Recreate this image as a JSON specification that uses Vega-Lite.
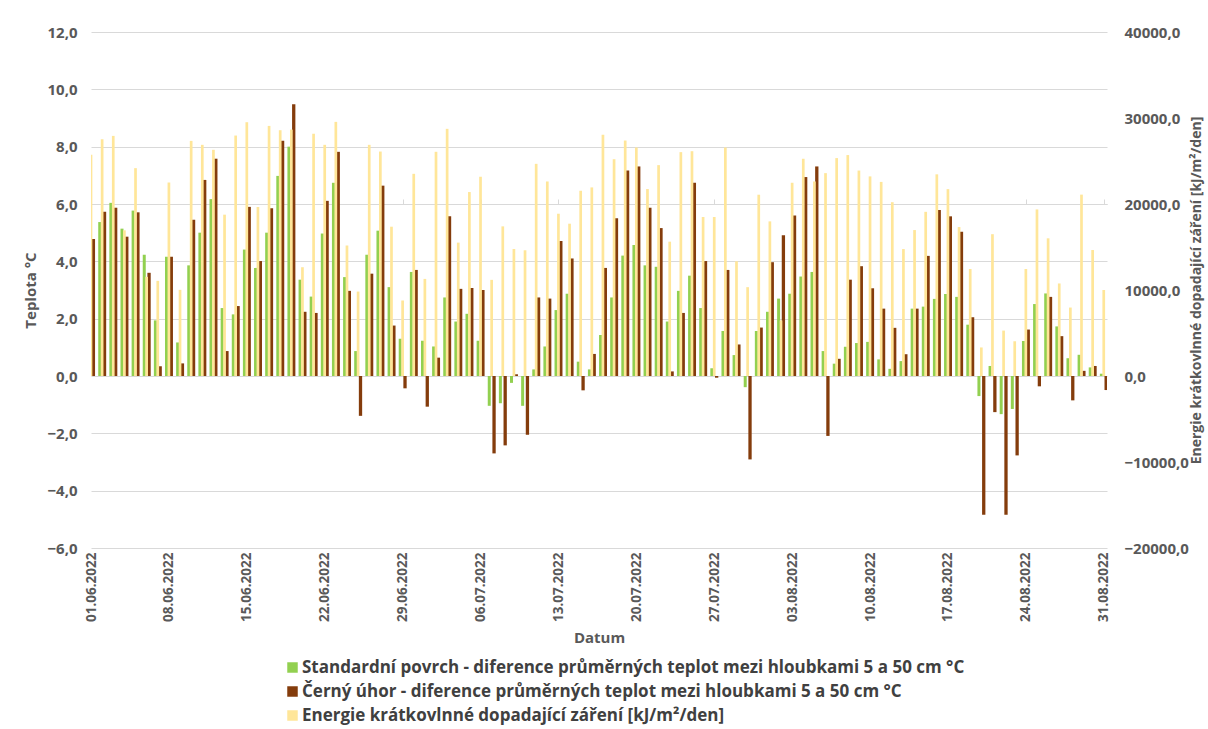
{
  "$schema": "https://vega.github.io/schema/vega-lite/v6.json",
  "autosize": "none",
  "width": 1016,
  "height": 516,
  "padding": {"left": 91, "top": 32, "right": 101, "bottom": 181},
  "background": "white",
  "config": {"view": {"stroke": null}, "font": "Open Sans"},
  "data": {"values": [
    {"d":"2022-06-01","g":4.6,"b":4.78,"e":25720},
    {"d":"2022-06-02","g":5.37,"b":5.73,"e":27530},
    {"d":"2022-06-03","g":6.04,"b":5.87,"e":27920},
    {"d":"2022-06-04","g":5.14,"b":4.86,"e":16940},
    {"d":"2022-06-05","g":5.77,"b":5.71,"e":24170},
    {"d":"2022-06-06","g":4.23,"b":3.60,"e":11530},
    {"d":"2022-06-07","g":1.94,"b":0.34,"e":11060},
    {"d":"2022-06-08","g":4.16,"b":4.16,"e":22500},
    {"d":"2022-06-09","g":1.17,"b":0.44,"e":10020},
    {"d":"2022-06-10","g":3.86,"b":5.45,"e":27340},
    {"d":"2022-06-11","g":5.00,"b":6.84,"e":26880},
    {"d":"2022-06-12","g":6.17,"b":7.58,"e":26300},
    {"d":"2022-06-13","g":2.37,"b":0.87,"e":18760},
    {"d":"2022-06-14","g":2.15,"b":2.44,"e":27960},
    {"d":"2022-06-15","g":4.41,"b":5.90,"e":29510},
    {"d":"2022-06-16","g":3.77,"b":4.01,"e":19650},
    {"d":"2022-06-17","g":5.00,"b":5.85,"e":29080},
    {"d":"2022-06-18","g":6.98,"b":8.21,"e":28580},
    {"d":"2022-06-19","g":8.00,"b":9.48,"e":28650},
    {"d":"2022-06-20","g":3.36,"b":2.24,"e":12650},
    {"d":"2022-06-21","g":2.77,"b":2.20,"e":28170},
    {"d":"2022-06-22","g":4.97,"b":6.11,"e":26880},
    {"d":"2022-06-23","g":6.74,"b":7.82,"e":29550},
    {"d":"2022-06-24","g":3.45,"b":2.97,"e":15160},
    {"d":"2022-06-25","g":0.87,"b":-1.39,"e":9820},
    {"d":"2022-06-26","g":4.23,"b":3.57,"e":26880},
    {"d":"2022-06-27","g":5.07,"b":6.64,"e":26100},
    {"d":"2022-06-28","g":3.10,"b":1.76,"e":17360},
    {"d":"2022-06-29","g":1.30,"b":-0.43,"e":8780},
    {"d":"2022-06-30","g":3.63,"b":3.70,"e":23510},
    {"d":"2022-07-01","g":1.23,"b":-1.07,"e":11290},
    {"d":"2022-07-02","g":1.03,"b":0.64,"e":26070},
    {"d":"2022-07-03","g":2.74,"b":5.57,"e":28740},
    {"d":"2022-07-04","g":1.90,"b":3.04,"e":15510},
    {"d":"2022-07-05","g":2.17,"b":3.07,"e":21390},
    {"d":"2022-07-06","g":1.23,"b":3.00,"e":23170},
    {"d":"2022-07-07","g":-1.04,"b":-2.70,"e":11180},
    {"d":"2022-07-08","g":-0.95,"b":-2.42,"e":17400},
    {"d":"2022-07-09","g":-0.24,"b":0.06,"e":14770},
    {"d":"2022-07-10","g":-1.04,"b":-2.05,"e":14620},
    {"d":"2022-07-11","g":0.23,"b":2.74,"e":24670},
    {"d":"2022-07-12","g":1.03,"b":2.70,"e":22620},
    {"d":"2022-07-13","g":2.30,"b":4.71,"e":18870},
    {"d":"2022-07-14","g":2.87,"b":4.10,"e":17710},
    {"d":"2022-07-15","g":0.50,"b":-0.50,"e":21540},
    {"d":"2022-07-16","g":0.23,"b":0.77,"e":21930},
    {"d":"2022-07-17","g":1.43,"b":3.77,"e":28040},
    {"d":"2022-07-18","g":2.74,"b":5.50,"e":25210},
    {"d":"2022-07-19","g":4.20,"b":7.17,"e":27380},
    {"d":"2022-07-20","g":4.57,"b":7.31,"e":26570},
    {"d":"2022-07-21","g":3.86,"b":5.87,"e":21740},
    {"d":"2022-07-22","g":3.81,"b":5.16,"e":24520},
    {"d":"2022-07-23","g":1.90,"b":0.16,"e":15620},
    {"d":"2022-07-24","g":2.97,"b":2.20,"e":26030},
    {"d":"2022-07-25","g":3.50,"b":6.74,"e":26140},
    {"d":"2022-07-26","g":2.37,"b":4.01,"e":18490},
    {"d":"2022-07-27","g":0.27,"b":-0.06,"e":18490},
    {"d":"2022-07-28","g":1.57,"b":3.70,"e":26570},
    {"d":"2022-07-29","g":0.73,"b":1.10,"e":13340},
    {"d":"2022-07-30","g":-0.39,"b":-2.91,"e":10330},
    {"d":"2022-07-31","g":1.57,"b":1.69,"e":21080},
    {"d":"2022-08-01","g":2.24,"b":3.97,"e":17980},
    {"d":"2022-08-02","g":2.70,"b":4.91,"e":6460},
    {"d":"2022-08-03","g":2.87,"b":5.60,"e":22470},
    {"d":"2022-08-04","g":3.47,"b":6.94,"e":25260},
    {"d":"2022-08-05","g":3.63,"b":7.31,"e":22620},
    {"d":"2022-08-06","g":0.87,"b":-2.09,"e":23590},
    {"d":"2022-08-07","g":0.43,"b":0.60,"e":25340},
    {"d":"2022-08-08","g":1.02,"b":3.36,"e":25690},
    {"d":"2022-08-09","g":1.15,"b":3.83,"e":23890},
    {"d":"2022-08-10","g":1.19,"b":3.06,"e":23210},
    {"d":"2022-08-11","g":0.58,"b":2.35,"e":22570},
    {"d":"2022-08-12","g":0.25,"b":1.68,"e":20210},
    {"d":"2022-08-13","g":0.52,"b":0.76,"e":14760},
    {"d":"2022-08-14","g":2.35,"b":2.35,"e":16970},
    {"d":"2022-08-15","g":2.42,"b":4.19,"e":19090},
    {"d":"2022-08-16","g":2.69,"b":5.79,"e":23450},
    {"d":"2022-08-17","g":2.86,"b":5.57,"e":21730},
    {"d":"2022-08-18","g":2.76,"b":5.03,"e":17320},
    {"d":"2022-08-19","g":1.79,"b":2.05,"e":12440},
    {"d":"2022-08-20","g":-0.70,"b":-4.84,"e":3320},
    {"d":"2022-08-21","g":0.35,"b":-1.26,"e":16490},
    {"d":"2022-08-22","g":-1.33,"b":-4.84,"e":5280},
    {"d":"2022-08-23","g":-1.15,"b":-2.77,"e":4040},
    {"d":"2022-08-24","g":1.22,"b":1.62,"e":12440},
    {"d":"2022-08-25","g":2.51,"b":-0.36,"e":19370},
    {"d":"2022-08-26","g":2.88,"b":2.76,"e":16010},
    {"d":"2022-08-27","g":1.73,"b":1.39,"e":10760},
    {"d":"2022-08-28","g":0.62,"b":-0.85,"e":7960},
    {"d":"2022-08-29","g":0.74,"b":0.18,"e":21090},
    {"d":"2022-08-30","g":0.30,"b":0.35,"e":14650},
    {"d":"2022-08-31","g":0.08,"b":-0.49,"e":10000}
  ]},
  "resolve": {"scale": {"y": "independent"}, "axis": {"x": "independent"}},
  "layer": [
    {
      "layer": [
        {
          "mark": {"type": "bar", "width": 3, "xOffset": -2.4, "clip": true},
          "encoding": {
            "x": {"field": "d", "type": "temporal",
              "scale": {"type": "utc", "padding": 0, "domain": [{"year":2022,"month":6,"date":1,"utc":true},{"year":2022,"month":8,"date":31,"hours":7,"utc":true}]},
              "axis": {"title": "Datum", "values": [
                {"year":2022,"month":6,"date":1,"utc":true},{"year":2022,"month":6,"date":8,"utc":true},{"year":2022,"month":6,"date":15,"utc":true},{"year":2022,"month":6,"date":22,"utc":true},{"year":2022,"month":6,"date":29,"utc":true},{"year":2022,"month":7,"date":6,"utc":true},{"year":2022,"month":7,"date":13,"utc":true},{"year":2022,"month":7,"date":20,"utc":true},{"year":2022,"month":7,"date":27,"utc":true},{"year":2022,"month":8,"date":3,"utc":true},{"year":2022,"month":8,"date":10,"utc":true},{"year":2022,"month":8,"date":17,"utc":true},{"year":2022,"month":8,"date":24,"utc":true},{"year":2022,"month":8,"date":31,"utc":true}],
                "labelExpr": "utcFormat(datum.value, '%d.%m.%Y')",
                "labelAngle": 270, "labelFontSize": 13.5, "labelFontWeight": "bold", "labelColor": "#595959",
                "labelPadding": 4, "domain": false, "ticks": false, "grid": false, "labelOverlap": false, "labelFlush": false,
                "titleFontSize": 15, "titleFontWeight": "bold", "titleColor": "#595959", "titlePadding": 9}},
            "y": {"field": "g", "type": "quantitative",
              "scale": {"domain": [-6, 12], "nice": false, "zero": false},
              "axis": {"title": "Teplota °C", "values": [-6,-4,-2,0,2,4,6,8,10,12],
                "labelExpr": "replace(format(datum.value, '.1f'), '.', ',')",
                "labelFontSize": 15, "labelFontWeight": "bold", "labelColor": "#595959", "labelPadding": 14,
                "domain": false, "ticks": false, "grid": true, "gridColor": "#d9d9d9", "gridWidth": 1,
                "titleFontSize": 15, "titleFontWeight": "bold", "titleColor": "#595959", "titlePadding": 8}},
            "color": {"datum": "Standardní povrch - diference průměrných teplot mezi hloubkami 5 a 50 cm °C", "type": "nominal",
              "scale": {"domain": ["Standardní povrch - diference průměrných teplot mezi hloubkami 5 a 50 cm °C", "Černý úhor - diference průměrných teplot mezi hloubkami 5 a 50 cm °C", "Energie krátkovlnné dopadající záření [kJ/m²/den]"], "range": ["#92D050", "#843C0C", "#FFE699"]},
              "legend": {"orient": "none", "legendX": 193, "legendY": 627, "title": null, "symbolType": "square", "symbolSize": 110,
                "labelFontSize": 17, "labelFontWeight": "bold", "labelColor": "#404040", "labelLimit": 0, "labelOffset": 1, "rowPadding": 6, "symbolStrokeWidth": 0}}
          }
        },
        {
          "mark": {"type": "bar", "width": 3.3, "xOffset": 2.4, "clip": true},
          "encoding": {
            "x": {"field": "d", "type": "temporal"},
            "y": {"field": "b", "type": "quantitative"},
            "color": {"datum": "Černý úhor - diference průměrných teplot mezi hloubkami 5 a 50 cm °C", "type": "nominal"}
          }
        }
      ]
    },
    {
      "mark": {"type": "bar", "width": 2.7, "clip": true},
      "encoding": {
        "x": {"field": "d", "type": "temporal",
          "axis": {"title": null, "labels": false, "offset": -172, "domain": true, "domainColor": "#d9d9d9", "ticks": true, "tickColor": "#d9d9d9", "tickSize": 5, "grid": false,
            "values": [
                {"year":2022,"month":6,"date":1,"utc":true},{"year":2022,"month":6,"date":8,"utc":true},{"year":2022,"month":6,"date":15,"utc":true},{"year":2022,"month":6,"date":22,"utc":true},{"year":2022,"month":6,"date":29,"utc":true},{"year":2022,"month":7,"date":6,"utc":true},{"year":2022,"month":7,"date":13,"utc":true},{"year":2022,"month":7,"date":20,"utc":true},{"year":2022,"month":7,"date":27,"utc":true},{"year":2022,"month":8,"date":3,"utc":true},{"year":2022,"month":8,"date":10,"utc":true},{"year":2022,"month":8,"date":17,"utc":true},{"year":2022,"month":8,"date":24,"utc":true},{"year":2022,"month":8,"date":31,"utc":true}]}},
        "y": {"field": "e", "type": "quantitative",
          "scale": {"domain": [-20000, 40000], "nice": false, "zero": false},
          "axis": {"orient": "right", "title": "Energie krátkovlnné dopadající záření [kJ/m²/den]", "values": [-20000,-10000,0,10000,20000,30000,40000],
            "labelExpr": "replace(format(datum.value, '.1f'), '.', ',')",
            "labelFontSize": 15, "labelFontWeight": "bold", "labelColor": "#595959", "labelPadding": 17,
            "domain": false, "ticks": false, "grid": false,
            "titleAngle": -90, "titleFontSize": 14, "titleFontWeight": "bold", "titleColor": "#595959", "titlePadding": 15}},
        "color": {"datum": "Energie krátkovlnné dopadající záření [kJ/m²/den]", "type": "nominal"}
      }
    }
  ]
}
